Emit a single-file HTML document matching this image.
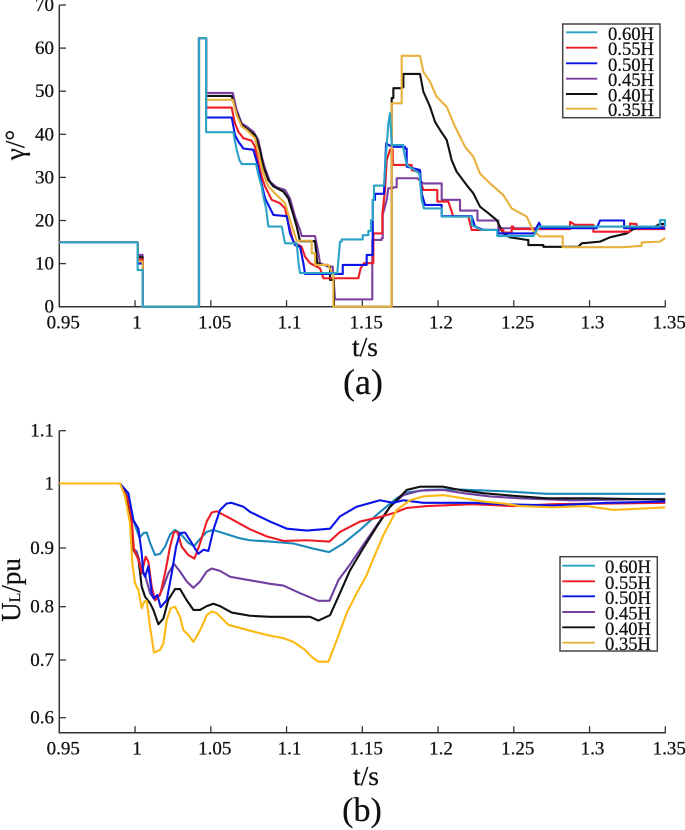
<!DOCTYPE html>
<html>
<head>
<meta charset="utf-8">
<style>
html,body{margin:0;padding:0;background:#fff;}
svg{display:block;font-family:"Liberation Serif",serif;fill:#111;filter:blur(0.35px);}
text{stroke:#111;stroke-width:0.25px;}
</style>
</head>
<body>
<svg id="figure" width="685" height="830" viewBox="0 0 685 830" xmlns="http://www.w3.org/2000/svg">
  <g id="panel-a"></g>
  <g id="panel-b"></g>
  <text transform="translate(24,145) rotate(-90)" text-anchor="middle" font-size="27">γ/°</text>
  <text x="365" y="356" text-anchor="middle" font-size="27.5">t/s</text>
  <text x="363" y="394" text-anchor="middle" font-size="36">(a)</text>
  <text transform="translate(20,590) rotate(-90)" text-anchor="middle" font-size="27">U<tspan font-size="16">L</tspan>/pu</text>
  <text x="366" y="785" text-anchor="middle" font-size="27.5">t/s</text>
  <text x="362" y="821" text-anchor="middle" font-size="34">(b)</text>
</svg>
<script>
const xTicks = [0.95, 1, 1.05, 1.1, 1.15, 1.2, 1.25, 1.3, 1.35];
const xTickLabels = ["0.95", "1", "1.05", "1.1", "1.15", "1.2", "1.25", "1.3", "1.35"];
const gammaTicks = [0, 10, 20, 30, 40, 50, 60, 70];
const voltageTicks = [1.1, 1, 0.9, 0.8, 0.7, 0.6];
const voltageTickLabels = ["1.1", "1", "0.9", "0.8", "0.7", "0.6"];
const seriesNames = ["0.60H", "0.55H", "0.50H", "0.45H", "0.40H", "0.35H"];

/* [time, degrees] — a third element of 1 marks a fine staircase read as a ramp; otherwise the value holds and then jumps */
const gamma060 = [[0.95,14.9],[1.0017,14.9],[1.0017,8.5],[1.005,0],[1.0422,62.3],[1.0469,40.5],[1.0649,40.5],[1.066,38.3,1],[1.0671,36.4,1],[1.0689,34,1],[1.0704,33.1,1],[1.0799,33.1],[1.0814,30.6,1],[1.0836,27.9,1],[1.0847,25.5,1],[1.0865,22.8,1],[1.088,18.6,1],[1.0968,18.6],[1.099,14.7,1],[1.1067,14.7],[1.1078,10.4,1],[1.1089,7.8,1],[1.1335,7.8],[1.1353,15.1,1],[1.1364,15.6],[1.1485,15.6],[1.1503,16.6],[1.154,17.6],[1.1558,20.1],[1.1569,24.8],[1.1577,28.1],[1.1643,28.1],[1.1657,35.6,1],[1.1672,42.5,1],[1.1683,44.9,1],[1.1694,37.5,1],[1.1771,36.7],[1.1793,32.9,1],[1.1877,30.9,1],[1.1892,24.8,1],[1.1907,22.8,1],[1.2013,22.8],[1.2024,20.9],[1.2211,20.9],[1.2222,18.9],[1.2288,17.8,1],[1.2387,17.8],[1.2391,16.4],[1.2629,16.4],[1.2667,18.6,1],[1.3461,18.6],[1.3465,20.1],[1.3487,20.1],[1.3498,18.6],[1.35,18.6]];
const gamma055 = [[0.95,14.9],[1.0017,14.9],[1.0017,11],[1.005,0],[1.0422,62.3],[1.0469,46.2],[1.0638,46.2],[1.066,42.5,1],[1.0682,40.6,1],[1.0715,39.1,1],[1.077,38.5,1],[1.0792,37.1,1],[1.0814,33.3,1],[1.0836,30.2,1],[1.0858,27.9,1],[1.0902,24.8,1],[1.0957,24,1],[1.099,22.8,1],[1.1012,19.3,1],[1.1045,15.1,1],[1.11,13.9,1],[1.1122,11.6,1],[1.1155,10.1,1],[1.1221,8.9,1],[1.1243,6.6,1],[1.1474,6.6],[1.1489,8.9,1],[1.1511,10.1,1],[1.1562,10.1],[1.1573,17],[1.1628,17],[1.1632,21.3],[1.165,27.1,1],[1.1661,34,1],[1.1683,36.4,1],[1.1701,32.9],[1.1815,32.9],[1.1826,31.7],[1.187,31.3,1],[1.1881,29.4],[1.1903,27.1,1],[1.1991,27.1],[1.1995,24.4],[1.2068,24.4],[1.2101,20.9,1],[1.22,20.9],[1.2222,17.8,1],[1.2387,17.8],[1.2431,17.2],[1.2486,18.6],[1.2497,18],[1.2871,18],[1.2871,19.7],[1.2904,19,1],[1.3014,19],[1.3025,17.4],[1.3256,17.4],[1.3267,19.3],[1.33,19.2,1],[1.3311,18],[1.35,18]];
const gamma050 = [[0.95,14.9],[1.0017,14.9],[1.0017,10],[1.005,0],[1.0422,62.3],[1.0469,43.9],[1.0638,43.9],[1.066,39.8,1],[1.0682,38.3,1],[1.0715,36.7,1],[1.0781,36.4,1],[1.0803,33.7,1],[1.0825,30.2,1],[1.0858,25.1,1],[1.088,23.6,1],[1.0913,21.3,1],[1.1001,21,1],[1.1023,17,1],[1.1056,14.3,1],[1.1089,13.9,1],[1.1111,10.1,1],[1.1122,7.6,1],[1.1364,7.6],[1.1371,9.7],[1.1525,9.7],[1.1529,12],[1.1551,12],[1.1569,24.8],[1.1584,26.2],[1.1643,26.2],[1.1657,37.9,1],[1.1694,37.1,1],[1.1782,36.7],[1.1793,32.5],[1.1881,31.7,1],[1.1892,26.3,1],[1.1914,23.6,1],[1.2013,23.6],[1.2024,21],[1.2222,21],[1.2244,18.6,1],[1.2299,17.8,1],[1.2387,17.8],[1.2398,17],[1.2629,17],[1.2667,19.5,1],[1.2684,18.2,1],[1.3047,18.2],[1.3069,20,1],[1.3223,20],[1.3228,18.2],[1.35,18.2]];
const gamma045 = [[0.95,14.9],[1.0017,14.9],[1.0017,12],[1.005,0],[1.0422,62.3],[1.0469,49.6],[1.0645,49.6],[1.0671,45.6,1],[1.0704,42.5,1],[1.0737,41.8,1],[1.0781,40.6,1],[1.0814,38.7,1],[1.0836,34.8,1],[1.0858,32.1,1],[1.0891,29,1],[1.0935,27.7,1],[1.099,27.1,1],[1.1023,25.1,1],[1.1056,20.9,1],[1.1089,17.8,1],[1.11,16.4,1],[1.1188,16.4],[1.121,12.4,1],[1.1221,10.1,1],[1.1276,9.3,1],[1.1305,8.9],[1.132,1.7,1],[1.1558,1.7],[1.1566,15.5],[1.1628,15.9],[1.1635,21.3],[1.1661,24.8,1],[1.1672,27.5,1],[1.1705,27.7],[1.1727,29.8],[1.1863,29.8],[1.1903,28.6,1],[1.2013,28.6],[1.2024,24.8],[1.2134,24.8],[1.2145,22.3],[1.2244,22.3],[1.226,20],[1.2387,20],[1.2398,18.2],[1.2761,18.2],[1.2772,18.6],[1.35,18.6]];
const gamma040 = [[0.95,14.9],[1.0017,14.9],[1.0017,11.5],[1.005,0],[1.0422,62.3],[1.0469,48.9],[1.0638,48.9],[1.0671,44.9,1],[1.0704,42.2,1],[1.0748,41,1],[1.0792,39.8,1],[1.0825,36.4,1],[1.0847,32.5,1],[1.088,29.4,1],[1.0913,27.9,1],[1.0979,26.7,1],[1.1012,25.1,1],[1.1045,21.3,1],[1.1067,18.6,1],[1.1089,15.2,1],[1.1188,15.2],[1.1203,10,1],[1.1221,9.7],[1.1276,9.3],[1.1287,6.2],[1.1313,6.2],[1.1313,0],[1.1694,48.4],[1.1705,50.7],[1.176,50.9],[1.1771,54],[1.1881,54],[1.1903,49.9,1],[1.1947,46.4,1],[1.198,42.9,1],[1.2013,41,1],[1.2057,38.7,1],[1.209,34,1],[1.2123,31.3,1],[1.2189,28.2,1],[1.2233,26.3,1],[1.2277,23.2,1],[1.2332,21.7,1],[1.2387,20.1,1],[1.2431,17,1],[1.2475,16.1,1],[1.2585,15.5,1],[1.2596,14.3],[1.2684,14.3],[1.2695,13.9],[1.2926,13.9],[1.2948,14.7,1],[1.3069,15.1,1],[1.3135,16.1,1],[1.3245,17,1],[1.3289,18,1],[1.3421,18.4,1],[1.3465,19.2,1],[1.35,19.2]];
const gamma035 = [[0.95,14.9],[1.0017,14.9],[1.0017,10.5],[1.005,0],[1.0422,62.3],[1.0469,48],[1.0645,48],[1.0671,44.5,1],[1.0704,41.8,1],[1.0737,41,1],[1.0792,39.1,1],[1.0814,35.6,1],[1.0847,30.9,1],[1.088,27.9,1],[1.0924,26.3,1],[1.099,24,1],[1.1023,20.1,1],[1.1067,15.3,1],[1.1155,15.3],[1.1166,12.4],[1.1188,9.7],[1.1276,9.7],[1.1305,7.4,1],[1.1309,0],[1.1694,47.2],[1.176,58.2],[1.1881,58.2],[1.1903,54.5,1],[1.1947,52.2,1],[1.1991,48.7,1],[1.2057,46.4,1],[1.2112,41.8,1],[1.2178,37.1,1],[1.2233,34.8,1],[1.2277,30.9,1],[1.2343,28.6,1],[1.2431,25.9,1],[1.2486,22.8,1],[1.2585,20.9,1],[1.2625,17.8,1],[1.2673,16.3,1],[1.2816,16.3],[1.2823,13.8],[1.3223,13.8],[1.3333,14.1,1],[1.3344,14.9],[1.3465,15.1,1],[1.3498,15.9,1],[1.35,15.9]];

const volt060 = [[0.95,1],[0.9901,1],[0.9956,0.98],[0.9989,0.943],[1.0029,0.916],[1.0055,0.923],[1.0077,0.924],[1.0099,0.908],[1.0132,0.888],[1.0165,0.89],[1.0198,0.902],[1.0231,0.921],[1.0264,0.928],[1.0297,0.923],[1.0352,0.908],[1.0389,0.903],[1.0429,0.914],[1.0473,0.925],[1.0517,0.928],[1.0583,0.923],[1.0693,0.915],[1.0759,0.912],[1.0891,0.91],[1.1045,0.907],[1.1177,0.899],[1.128,0.893],[1.1375,0.907],[1.1485,0.928],[1.1617,0.956],[1.1727,0.977],[1.1793,0.986],[1.1925,0.99],[1.2101,0.991],[1.2431,0.988],[1.2717,0.984],[1.35,0.984]];
const volt055 = [[0.95,1],[0.9901,1],[0.9956,0.974],[0.9978,0.943],[0.9993,0.897],[1.0022,0.88],[1.0044,0.857],[1.007,0.885],[1.0088,0.877],[1.011,0.834],[1.0132,0.811],[1.0165,0.82],[1.0198,0.857],[1.0231,0.902],[1.0257,0.925],[1.0279,0.925],[1.0308,0.902],[1.0352,0.888],[1.0392,0.882],[1.0429,0.907],[1.0473,0.941],[1.0506,0.955],[1.0539,0.957],[1.0627,0.946],[1.0759,0.929],[1.0869,0.918],[1.0979,0.911],[1.1133,0.912],[1.1283,0.91],[1.1353,0.925],[1.1485,0.941],[1.1617,0.948],[1.1705,0.954],[1.1793,0.962],[1.1925,0.965],[1.2233,0.968],[1.2497,0.965],[1.2761,0.968],[1.35,0.97]];
const volt050 = [[0.95,1],[0.9901,1],[0.9956,0.985],[0.9989,0.943],[1.0022,0.93],[1.0044,0.891],[1.0055,0.857],[1.0066,0.851],[1.0088,0.869],[1.011,0.823],[1.0125,0.814],[1.0147,0.82],[1.0169,0.799],[1.0209,0.811],[1.0242,0.857],[1.0271,0.902],[1.0297,0.923],[1.033,0.924],[1.0363,0.912],[1.0418,0.89],[1.0451,0.897],[1.0484,0.895],[1.0517,0.928],[1.0561,0.959],[1.0605,0.969],[1.0638,0.97],[1.0715,0.964],[1.0759,0.956],[1.0891,0.941],[1.1001,0.93],[1.1133,0.927],[1.1287,0.93],[1.1353,0.949],[1.1463,0.964],[1.1617,0.974],[1.1705,0.97],[1.1771,0.974],[1.1903,0.97],[1.2233,0.97],[1.2409,0.968],[1.2761,0.966],[1.3113,0.97],[1.35,0.972]];
const volt045 = [[0.95,1],[0.9901,1],[0.9956,0.975],[0.9989,0.899],[1.0011,0.894],[1.0044,0.863],[1.0066,0.854],[1.0099,0.823],[1.0132,0.811],[1.0161,0.82],[1.0187,0.834],[1.022,0.857],[1.0257,0.873],[1.0297,0.86],[1.0341,0.843],[1.0385,0.832],[1.0429,0.843],[1.0473,0.86],[1.0506,0.865],[1.0561,0.861],[1.0627,0.851],[1.0759,0.845],[1.0891,0.839],[1.0979,0.836],[1.1089,0.823],[1.121,0.81],[1.1283,0.81],[1.1342,0.845],[1.1419,0.872],[1.1507,0.905],[1.1595,0.935],[1.1683,0.964],[1.1771,0.982],[1.1881,0.989],[1.2035,0.99],[1.2167,0.985],[1.2343,0.98],[1.2541,0.977],[1.2893,0.974],[1.35,0.976]];
const volt040 = [[0.95,1],[0.9901,1],[0.9934,0.985],[0.9967,0.954],[0.9989,0.897],[1.0022,0.882],[1.0044,0.834],[1.0066,0.817],[1.0099,0.806],[1.0121,0.794],[1.0154,0.767],[1.0187,0.778],[1.022,0.812],[1.0264,0.83],[1.0297,0.83],[1.0341,0.811],[1.0385,0.794],[1.0429,0.794],[1.0473,0.801],[1.0517,0.805],[1.0561,0.801],[1.0638,0.789],[1.0759,0.783],[1.0891,0.781],[1.1045,0.781],[1.1155,0.781],[1.121,0.774],[1.1287,0.784],[1.1342,0.817],[1.1419,0.862],[1.1507,0.9],[1.1595,0.933],[1.1683,0.964],[1.1793,0.99],[1.1881,0.995],[1.2035,0.995],[1.2167,0.989],[1.2299,0.985],[1.2497,0.981],[1.2717,0.977],[1.3025,0.977],[1.35,0.975]];
const volt035 = [[0.95,1],[0.9901,1],[0.9934,0.98],[0.9967,0.938],[0.9982,0.874],[1,0.84],[1.0022,0.828],[1.0044,0.797],[1.0062,0.809],[1.0077,0.81],[1.0099,0.762],[1.0125,0.714],[1.0165,0.719],[1.0187,0.731],[1.0209,0.775],[1.0235,0.797],[1.0264,0.8],[1.0297,0.781],[1.0319,0.756],[1.0352,0.747],[1.0385,0.734],[1.0418,0.75],[1.044,0.762],[1.0473,0.784],[1.0506,0.791],[1.0539,0.788],[1.0616,0.766],[1.0759,0.755],[1.0869,0.747],[1.0979,0.741],[1.1045,0.734],[1.1122,0.719],[1.1166,0.706],[1.121,0.697],[1.1276,0.697],[1.1331,0.737],[1.1397,0.788],[1.1463,0.823],[1.1529,0.854],[1.1573,0.882],[1.1639,0.92],[1.1727,0.959],[1.1815,0.974],[1.1903,0.98],[1.2035,0.982],[1.2167,0.977],[1.2299,0.972],[1.2431,0.969],[1.2541,0.965],[1.2761,0.963],[1.2981,0.965],[1.3157,0.959],[1.3333,0.961],[1.35,0.963]];

const SVG_NS = "http://www.w3.org/2000/svg";
const AXIS_COLOR = "#333";

function xScale(t) {
  return 59.3 + (t - 0.95) * 1515;
}
function gammaScale(v) {
  return 306.7 - v * 4.31;
}
function voltageScale(v) {
  const stops = [[1.1, 430.7], [1, 483.5], [0.9, 548], [0.8, 606.7], [0.7, 660], [0.6, 717.7], [0.55, 746.5]];
  for (let i = 0; i < stops.length - 1; i++) {
    if (v >= stops[i + 1][0]) {
      const f = (stops[i][0] - v) / (stops[i][0] - stops[i + 1][0]);
      return stops[i][1] + f * (stops[i + 1][1] - stops[i][1]);
    }
  }
  return stops[stops.length - 1][1];
}
function make(parent, tag, attrs) {
  const el = document.createElementNS(SVG_NS, tag);
  for (const k in attrs) el.setAttribute(k, attrs[k]);
  parent.appendChild(el);
  return el;
}
function drawAxes(panel, yScale, yTicks, yLabels, top, bottom, prefix) {
  const yAxis = make(panel, "line", {x1: 59.3, x2: 59.3, y1: top, y2: bottom, stroke: AXIS_COLOR, "stroke-width": 1.5});
  
  
  const xAxis = make(panel, "line", {x1: 58.5, x2: 665.8, y1: bottom, y2: bottom, stroke: AXIS_COLOR, "stroke-width": 1.5});
  
  
  xTicks.forEach(function (t, i) {
    const px = xScale(t);
    const tick = make(panel, "line", {x1: px, x2: px, y1: bottom, y2: bottom - 6.5, stroke: AXIS_COLOR, "stroke-width": 1.3});
    
    
    const shift = xTickLabels[i].length > 3 ? 4 : (xTickLabels[i].length === 3 ? 3 : 2);
    const label = make(panel, "text", {x: px + shift, y: bottom + 22, "text-anchor": "middle", "font-size": 19});
    
    
    label.textContent = xTickLabels[i];
  });
  yTicks.forEach(function (v, i) {
    const py = yScale(v);
    const tick = make(panel, "line", {x1: 59.3, x2: 66, y1: py, y2: py, stroke: AXIS_COLOR, "stroke-width": 1.3});
    
    
    const label = make(panel, "text", {x: 54, y: py + 6, "text-anchor": "end", "font-size": 19});
    
    
    label.textContent = yLabels[i];
  });
}
function stepPath(points, yScale) {
  let d = "M" + xScale(points[0][0]).toFixed(2) + " " + yScale(points[0][1]).toFixed(2);
  for (let i = 1; i < points.length; i++) {
    const px = xScale(points[i][0]).toFixed(2);
    const py = yScale(points[i][1]).toFixed(2);
    d += points[i][2] ? "L" + px + " " + py : "H" + px + "V" + py;
  }
  return d;
}
function linePath(points, yScale) {
  return points.map(function (p, i) {
    return (i ? "L" : "M") + xScale(p[0]).toFixed(2) + " " + yScale(p[1]).toFixed(2);
  }).join("");
}
function drawSeries(panel, d, color, name) {
  const path = make(panel, "path", {d: d, fill: "none", stroke: color, "stroke-width": 2.1, "stroke-linejoin": "round"});
  
  
}
function drawLegend(panel, x, y, w, h, lineX1, lineX2, textX, rows, colors, prefix) {
  const box = make(panel, "rect", {x: x, y: y, width: w, height: h, fill: "#fff", stroke: "#444", "stroke-width": 1.5});
  
  
  const clipId = prefix + "-legend-clip";
  const clip = make(panel, "clipPath", {id: clipId});
  make(clip, "rect", {x: x, y: y, width: w, height: h});
  rows.forEach(function (rowY, i) {
    const key = make(panel, "line", {x1: lineX1, x2: lineX2, y1: rowY, y2: rowY, stroke: colors[i], "stroke-width": 1.9});
    
    
    const label = make(panel, "text", {x: textX, y: rowY + 7.5, "font-size": 18.6, "clip-path": "url(#" + clipId + ")"});
    
    
    label.textContent = seriesNames[i];
  });
}

const panelA = document.getElementById("panel-a");
const panelB = document.getElementById("panel-b");
const colorsA = ["#2ba3c6", "#ee1c25", "#0a14e6", "#7b3fa0", "#111111", "#e8b13c"];
const colorsB = ["#1c88ba", "#ee1c25", "#0a14e6", "#7040a0", "#111111", "#fdb913"];

drawAxes(panelA, gammaScale, gammaTicks, gammaTicks.map(String), 5, 306.7, "gamma");
drawSeries(panelA, stepPath(gamma045, gammaScale), colorsA[3], "gamma-series-0-45h");
drawSeries(panelA, stepPath(gamma040, gammaScale), colorsA[4], "gamma-series-0-40h");
drawSeries(panelA, stepPath(gamma055, gammaScale), colorsA[1], "gamma-series-0-55h");
drawSeries(panelA, stepPath(gamma050, gammaScale), colorsA[2], "gamma-series-0-50h");
drawSeries(panelA, stepPath(gamma035, gammaScale), colorsA[5], "gamma-series-0-35h");
drawSeries(panelA, stepPath(gamma060, gammaScale), colorsA[0], "gamma-series-0-60h");
drawLegend(panelA, 562.7, 24, 97.3, 93.7, 566, 597.3, 608, [32.3, 47.7, 63.3, 78.7, 94, 108.7], colorsA, "gamma");

drawAxes(panelB, voltageScale, voltageTicks, voltageTickLabels, 430.7, 732.7, "voltage");
drawSeries(panelB, linePath(volt060, voltageScale), colorsB[0], "voltage-series-0-60h");
drawSeries(panelB, linePath(volt045, voltageScale), colorsB[3], "voltage-series-0-45h");
drawSeries(panelB, linePath(volt040, voltageScale), colorsB[4], "voltage-series-0-40h");
drawSeries(panelB, linePath(volt055, voltageScale), colorsB[1], "voltage-series-0-55h");
drawSeries(panelB, linePath(volt050, voltageScale), colorsB[2], "voltage-series-0-50h");
drawSeries(panelB, linePath(volt035, voltageScale), colorsB[5], "voltage-series-0-35h");
drawLegend(panelB, 560, 556.7, 97.3, 94.3, 562.3, 595, 605, [565.7, 581.3, 596.3, 612, 627.3, 642.7], colorsA, "voltage");
</script>
</body>
</html>
